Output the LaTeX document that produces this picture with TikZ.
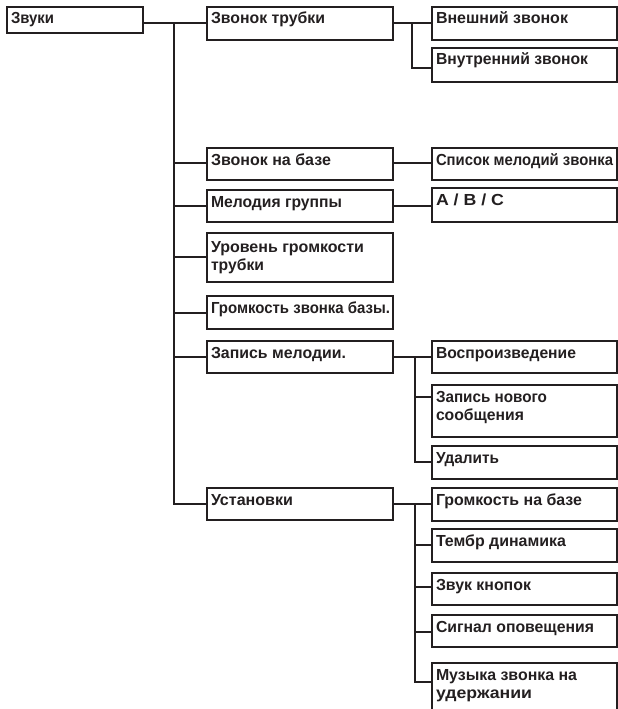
\documentclass[tikz,border=0pt]{standalone}
\usepackage{fontspec}
\usepackage{graphicx}
\setmainfont{Liberation Sans}
\definecolor{ink}{RGB}{35,31,32}
\newcommand{\bt}[4][17]{\parbox[c][#3pt][t]{\dimexpr#2pt-8pt\relax}{\raggedright\fontsize{16pt}{18pt}\selectfont\bfseries\color{ink}\rule{0pt}{#1pt}#4}}
\newcommand{\tl}[2]{\resizebox{#1pt}{\height}{#2}}
\tikzset{
  bx/.style={draw=ink, line width=2.2pt, inner xsep=4pt, inner ysep=0pt, outer sep=0pt, anchor=north west},
  conn/.style={draw=ink, line width=2.2pt},
}
\begin{document}
\begin{tikzpicture}[x=1pt,y=-1pt]
\useasboundingbox (0,0) rectangle (618,709);
% level 1
\node[bx] (root) at (7,7) {\bt{136}{26}{\tl{43}{Звуки}}};
% level 2
\node[bx] (a1) at (207,7)   {\bt{186}{33}{\tl{114}{Звонок трубки}}};
\node[bx] (a2) at (207,148) {\bt{186}{32}{\tl{120}{Звонок на базе}}};
\node[bx] (a3) at (207,190) {\bt{186}{32}{\tl{131}{Мелодия группы}}};
\node[bx] (a4) at (207,233) {\bt[19]{186}{49}{\tl{153}{Уровень громкости}\\\tl{53}{трубки}}};
\node[bx] (a5) at (207,296) {\bt{186}{33}{\tl{179}{Громкость звонка базы.}}};
\node[bx] (a6) at (207,341) {\bt{186}{32}{\tl{135}{Запись мелодии.}}};
\node[bx] (a7) at (207,488) {\bt{186}{32}{\tl{82}{Установки}}};
% level 3
\node[bx] (b1) at (432,7)   {\bt{185}{33}{\tl{132}{Внешний звонок}}};
\node[bx] (b2) at (432,48)  {\bt{185}{34}{\tl{152}{Внутренний звонок}}};
\node[bx] (c1) at (432,148) {\bt{185}{32}{\tl{177}{Список мелодий звонка}}};
\node[bx] (d1) at (432,188) {\bt{185}{34}{\tl{68}{A / B / C}}};
\node[bx] (e1) at (432,341) {\bt{185}{32}{\tl{140}{Воспроизведение}}};
\node[bx] (e2) at (432,385) {\bt{185}{52}{\tl{111}{Запись нового}\\\tl{88}{сообщения}}};
\node[bx] (e3) at (432,446) {\bt{185}{33}{\tl{63}{Удалить}}};
\node[bx] (g1) at (432,488) {\bt{185}{33}{\tl{146}{Громкость на базе}}};
\node[bx] (g2) at (432,529) {\bt{185}{33}{\tl{130}{Тембр динамика}}};
\node[bx] (g3) at (432,573) {\bt{185}{32}{\tl{95}{Звук кнопок}}};
\node[bx] (g4) at (432,615) {\bt{185}{32}{\tl{158}{Сигнал оповещения}}};
\node[bx] (g5) at (432,663) {\bt{185}{60}{\tl{141}{Музыка звонка на}\\\tl{96}{удержании}}};
% connectors level 1 -> 2
\coordinate (tr) at (174,23);
\draw[conn] ([yshift=-16pt]root.north east) -- ([yshift=-16pt]a1.north west);
\draw[conn] (tr) |- ([yshift=-15pt]a2.north west);
\draw[conn] (tr) |- ([yshift=-16pt]a3.north west);
\draw[conn] (tr) |- ([yshift=-24pt]a4.north west);
\draw[conn] (tr) |- ([yshift=-17pt]a5.north west);
\draw[conn] (tr) |- ([yshift=-16pt]a6.north west);
\draw[conn] (tr) |- ([yshift=-16pt]a7.north west);
% level 2 -> 3
\coordinate (v1) at (412,23);
\draw[conn] ([yshift=-16pt]a1.north east) -- ([yshift=-16pt]b1.north west);
\draw[conn] (v1) |- ([yshift=-20pt]b2.north west);
\draw[conn] ([yshift=-15pt]a2.north east) -- ([yshift=-15pt]c1.north west);
\draw[conn] ([yshift=-16pt]a3.north east) -- ([yshift=-16pt]a3.north east -| d1.west);
\coordinate (v6) at (415,357);
\draw[conn] ([yshift=-16pt]a6.north east) -- ([yshift=-16pt]e1.north west);
\draw[conn] (v6) |- ([yshift=-12pt]e2.north west);
\draw[conn] (v6) |- ([yshift=-16pt]e3.north west);
\coordinate (v7) at (415,504);
\draw[conn] ([yshift=-16pt]a7.north east) -- ([yshift=-16pt]g1.north west);
\draw[conn] (v7) |- ([yshift=-16pt]g2.north west);
\draw[conn] (v7) |- ([yshift=-14pt]g3.north west);
\draw[conn] (v7) |- ([yshift=-17pt]g4.north west);
\draw[conn] (v7) |- ([yshift=-19pt]g5.north west);
\end{tikzpicture}
\end{document}
